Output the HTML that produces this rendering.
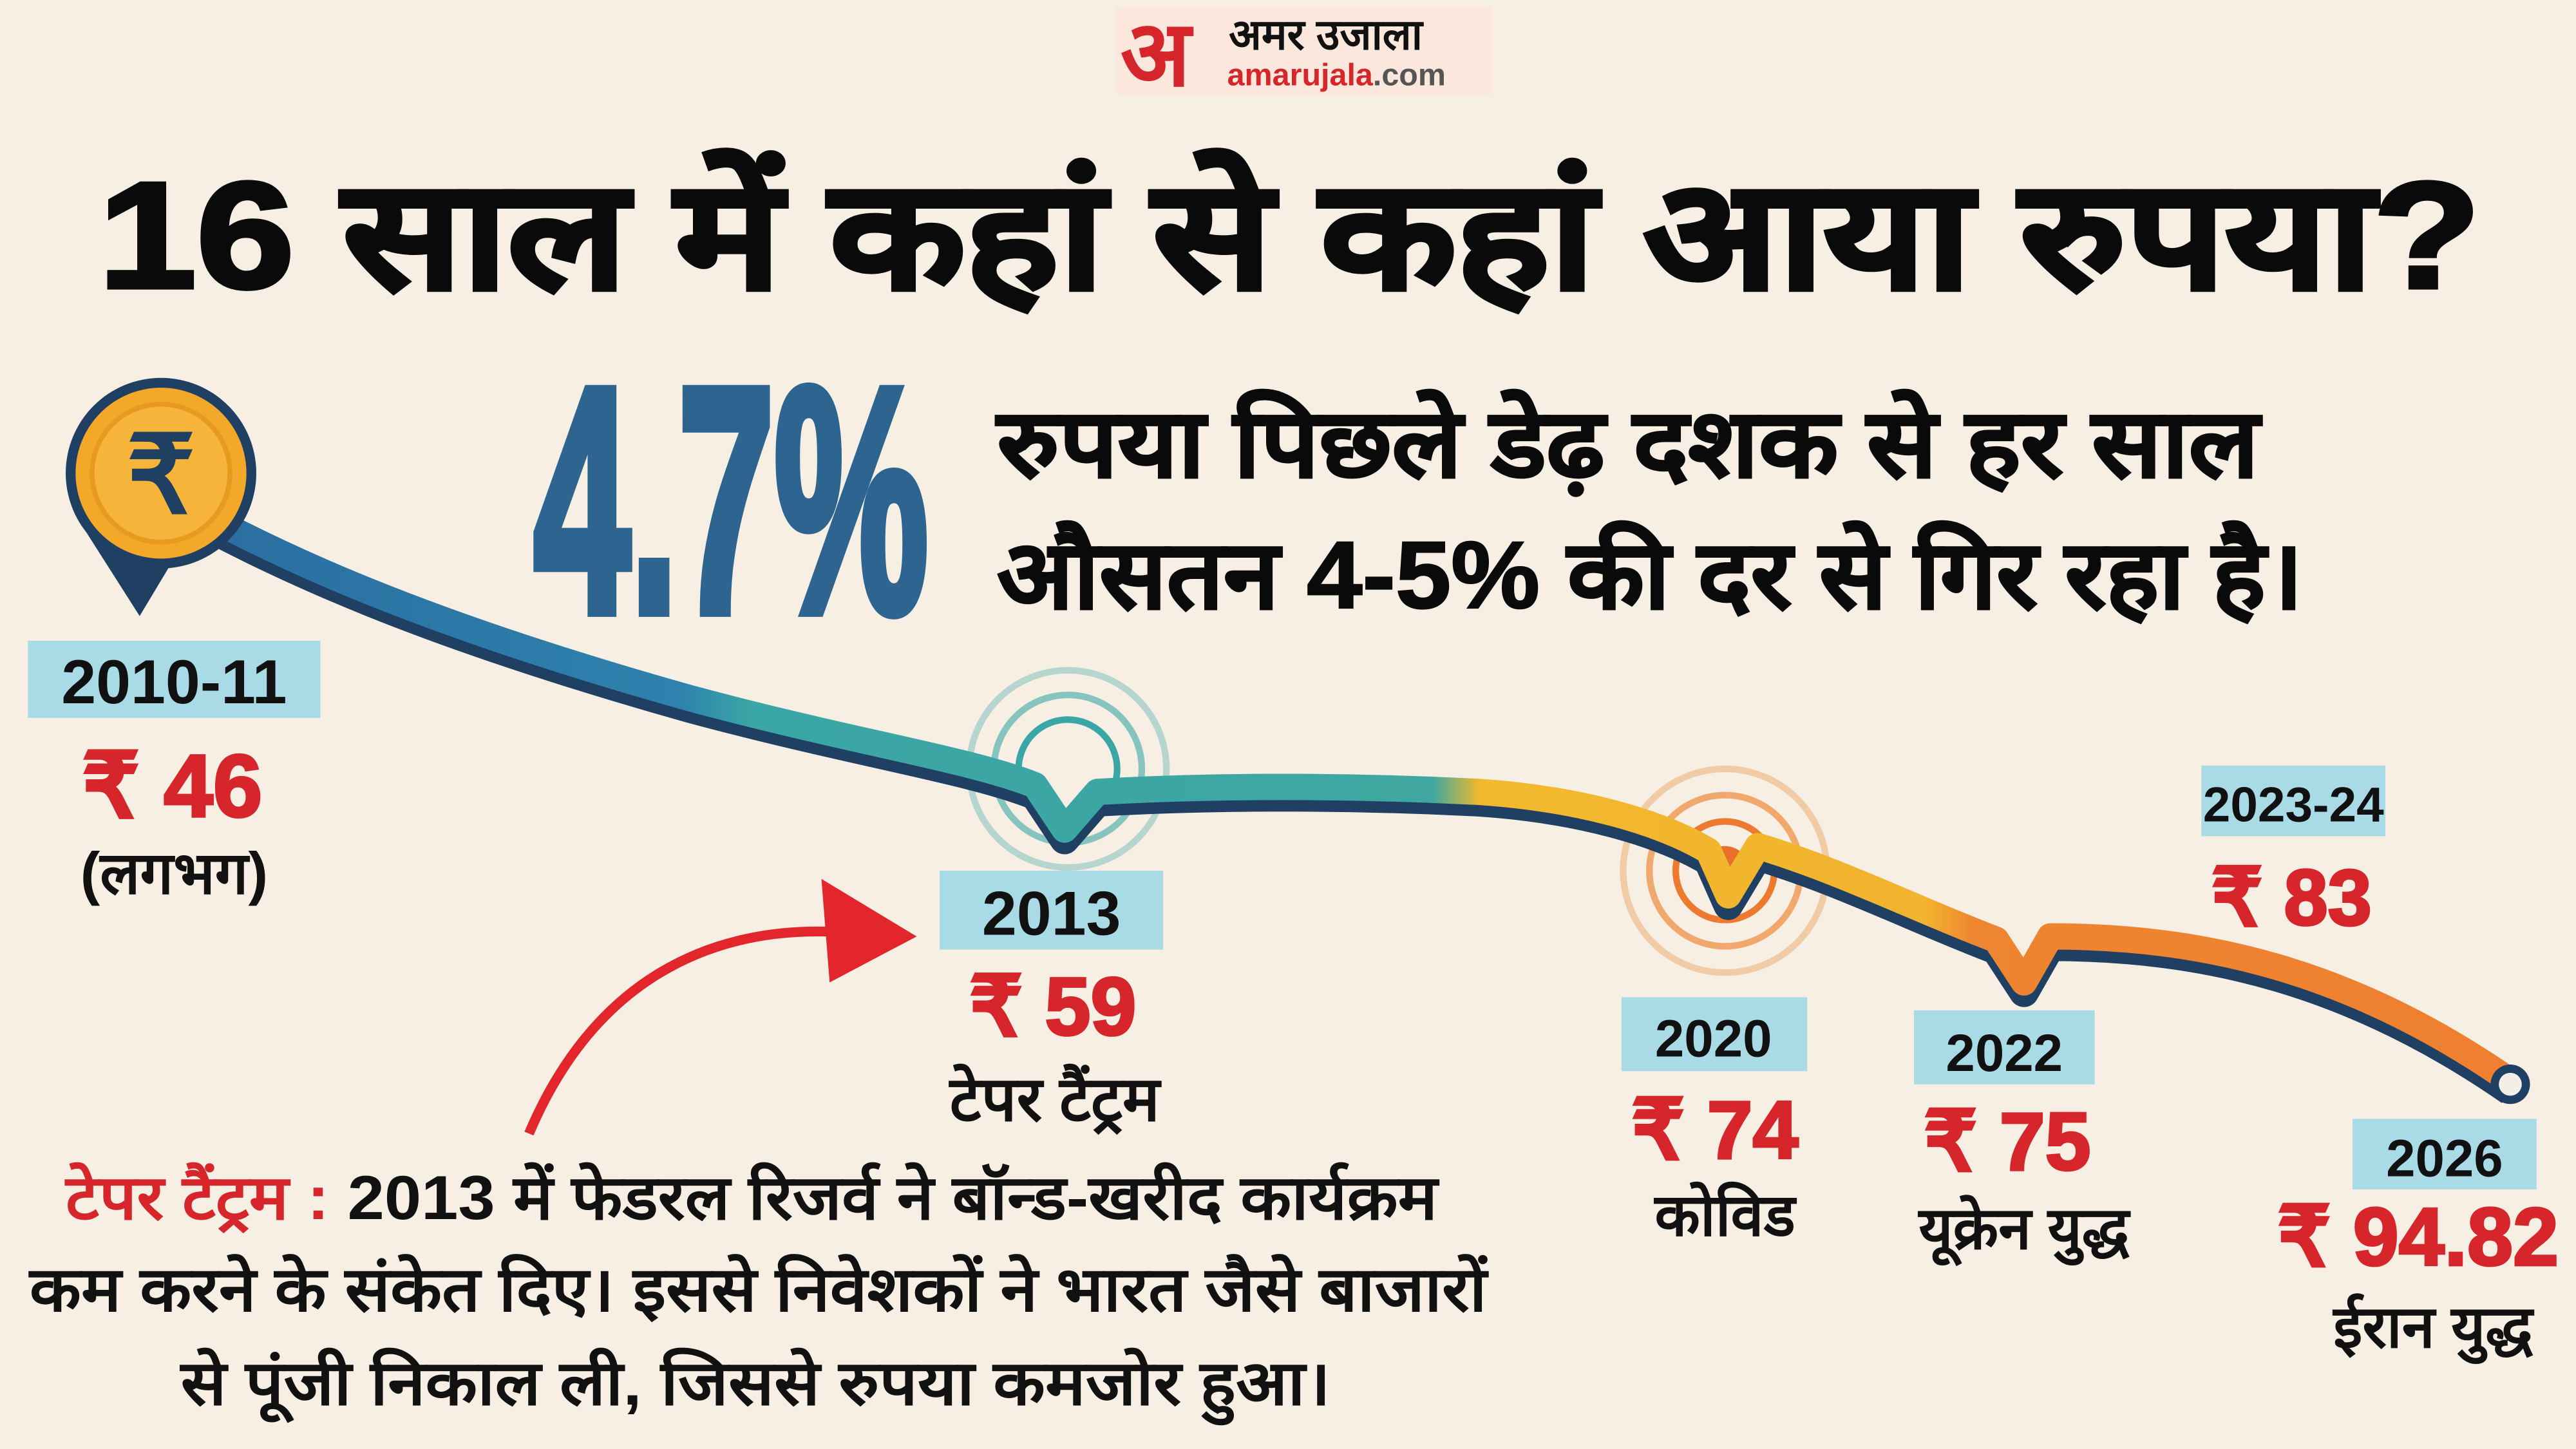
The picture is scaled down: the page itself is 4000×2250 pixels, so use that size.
<!DOCTYPE html>
<html><head><meta charset="utf-8"><style>
html,body{margin:0;padding:0;background:#f7efe3;}
svg{display:block;}
text{font-family:"Liberation Sans","Noto Sans CJK SC",sans-serif;}
</style></head><body>
<svg width="4000" height="2250" viewBox="0 0 1568 882" preserveAspectRatio="none" xmlns="http://www.w3.org/2000/svg">
<defs>
<linearGradient id="g" gradientUnits="userSpaceOnUse" x1="100" y1="0" x2="1530" y2="0">
<stop offset="0" stop-color="#2a6c9e"/><stop offset="0.22" stop-color="#2e82ad"/>
<stop offset="0.25" stop-color="#3aa6a6"/><stop offset="0.54" stop-color="#3fa7a0"/>
<stop offset="0.56" stop-color="#f2b92e"/><stop offset="0.75" stop-color="#f2b32e"/>
<stop offset="0.77" stop-color="#ee8530"/><stop offset="1" stop-color="#ee8030"/>
</linearGradient>
</defs>
<rect width="1568" height="882" fill="#f7efe3"/>
<!-- logo -->
<rect x="680" y="4" width="228" height="54" fill="#fbe7dc"/>
<text x="682" y="52" font-size="56" font-weight="bold" fill="#d7262b">अ</text>
<text x="748" y="30" font-size="26" font-weight="bold" fill="#111">अमर उजाला</text>
<text x="747" y="52" font-size="19" font-weight="bold" fill="#d7262b">amarujala<tspan fill="#555">.com</tspan></text>
<!-- title -->
<text x="785" y="175" font-size="92" font-weight="bold" fill="#0a0a0a" stroke="#0a0a0a" stroke-width="2.5" text-anchor="middle" textLength="1450" lengthAdjust="spacingAndGlyphs">16 साल में कहां से कहां आया रुपया?</text>
<!-- 4.7% -->
<text x="325" y="372" font-size="195" font-weight="bold" fill="#2d6590" stroke="#2d6590" stroke-width="7" textLength="240" lengthAdjust="spacingAndGlyphs">4.7%</text>
<text x="607" y="290" font-size="58" font-weight="bold" fill="#0a0a0a" stroke="#0a0a0a" stroke-width="1" textLength="768" lengthAdjust="spacingAndGlyphs">रुपया पिछले डेढ़ दशक से हर साल</text>
<text x="607" y="370" font-size="58" font-weight="bold" fill="#0a0a0a" stroke="#0a0a0a" stroke-width="1" textLength="795" lengthAdjust="spacingAndGlyphs">औसतन 4-5% की दर से गिर रहा है।</text>
<!-- ripples -->
<g fill="none" stroke-width="4">
<circle cx="650" cy="468" r="60" stroke="#3aa6a6" opacity="0.35"/>
<circle cx="650" cy="468" r="45" stroke="#3aa6a6" opacity="0.6"/>
<circle cx="650" cy="468" r="30" stroke="#3aa6a6"/>
<circle cx="1050" cy="530" r="62" stroke="#e9a86a" opacity="0.5"/>
<circle cx="1050" cy="530" r="46" stroke="#ee8a3a" opacity="0.7"/>
<circle cx="1050" cy="530" r="30" stroke="#ee7a30"/>
<circle cx="1050" cy="530" r="15" fill="#e8702a" stroke="none"/>
</g>
<!-- ribbon -->
<path d="M100,300 C170,340 260,380 420,425 C520,452 590,462 630,478 L648,505 L668,482 C740,478 820,478 900,482 C960,486 1010,500 1040,518 L1052,545 L1070,515 C1120,530 1170,555 1215,572 L1232,598 L1248,570 C1340,570 1430,590 1528,658" fill="none" stroke="#1f3f63" stroke-width="18" stroke-linejoin="round" transform="translate(0,6)"/>
<path d="M100,300 C170,340 260,380 420,425 C520,452 590,462 630,478 L648,505 L668,482 C740,478 820,478 900,482 C960,486 1010,500 1040,518 L1052,545 L1070,515 C1120,530 1170,555 1215,572 L1232,598 L1248,570 C1340,570 1430,590 1528,658" fill="none" stroke="url(#g)" stroke-width="16" stroke-linejoin="round"/>
<circle cx="1528" cy="660" r="12" fill="#1f3f63"/><circle cx="1528" cy="660" r="7" fill="#f3efe6"/>
<!-- coin -->
<path d="M50,320 L85,375 L112,330 Z" fill="#1f3f63"/>
<circle cx="98" cy="288" r="58" fill="#1f3f63"/>
<circle cx="98" cy="288" r="52" fill="#f3a82a"/>
<circle cx="98" cy="288" r="42" fill="#f6b43a" stroke="#e89a20" stroke-width="3"/>
<text x="98" y="312" font-size="66" font-weight="bold" fill="#1f3f63" text-anchor="middle">₹</text>
<!-- labels -->
<g font-weight="bold">
<rect x="17" y="390" width="178" height="47" fill="#a9dbe6"/>
<text x="106" y="428" font-size="38" fill="#111" text-anchor="middle">2010-11</text>
<text x="105" y="497" font-size="54" fill="#d7262b" stroke="#d7262b" stroke-width="1.5" text-anchor="middle">₹ 46</text>
<text x="106" y="544" font-size="36" fill="#111" text-anchor="middle">(लगभग)</text>

<rect x="572" y="530" width="136" height="48" fill="#a9dbe6"/>
<text x="640" y="569" font-size="38" fill="#111" text-anchor="middle">2013</text>
<text x="641" y="630" font-size="50" fill="#d7262b" stroke="#d7262b" stroke-width="1.5" text-anchor="middle">₹ 59</text>
<text x="642" y="682" font-size="38" fill="#111" text-anchor="middle">टेपर टैंट्रम</text>

<rect x="987" y="607" width="113" height="45" fill="#a9dbe6"/>
<text x="1043" y="643" font-size="32" fill="#111" text-anchor="middle">2020</text>
<text x="1044" y="705" font-size="50" fill="#d7262b" stroke="#d7262b" stroke-width="1.5" text-anchor="middle">₹ 74</text>
<text x="1050" y="752" font-size="36" fill="#111" text-anchor="middle">कोविड</text>

<rect x="1165" y="615" width="110" height="45" fill="#a9dbe6"/>
<text x="1220" y="652" font-size="32" fill="#111" text-anchor="middle">2022</text>
<text x="1222" y="712" font-size="50" fill="#d7262b" stroke="#d7262b" stroke-width="1.5" text-anchor="middle">₹ 75</text>
<text x="1232" y="760" font-size="36" fill="#111" text-anchor="middle">यूक्रेन युद्ध</text>

<rect x="1340" y="466" width="112" height="43" fill="#a9dbe6"/>
<text x="1396" y="500" font-size="30" fill="#111" text-anchor="middle">2023-24</text>
<text x="1395" y="563" font-size="48" fill="#d7262b" stroke="#d7262b" stroke-width="1.5" text-anchor="middle">₹ 83</text>

<rect x="1432" y="681" width="112" height="43" fill="#a9dbe6"/>
<text x="1488" y="716" font-size="32" fill="#111" text-anchor="middle">2026</text>
<text x="1472" y="770" font-size="50" fill="#d7262b" stroke="#d7262b" stroke-width="1.5" text-anchor="middle">₹ 94.82</text>
<text x="1481" y="820" font-size="36" fill="#111" text-anchor="middle">ईरान युद्ध</text>
</g>
<!-- red arrow -->
<path d="M322,690 C360,600 430,560 520,568" fill="none" stroke="#e2262b" stroke-width="6"/>
<path d="M500,535 L558,570 L505,598 Z" fill="#e2262b"/>
<!-- paragraph -->
<g font-size="38" font-weight="bold" fill="#111">
<text x="40" y="742" textLength="835" lengthAdjust="spacingAndGlyphs"><tspan fill="#d7262b">टेपर टैंट्रम :</tspan> 2013 में फेडरल रिजर्व ने बॉन्ड-खरीद कार्यक्रम</text>
<text x="18" y="798" textLength="887" lengthAdjust="spacingAndGlyphs">कम करने के संकेत दिए। इससे निवेशकों ने भारत जैसे बाजारों</text>
<text x="110" y="855" textLength="700" lengthAdjust="spacingAndGlyphs">से पूंजी निकाल ली, जिससे रुपया कमजोर हुआ।</text>
</g>
</svg>
</body></html>
